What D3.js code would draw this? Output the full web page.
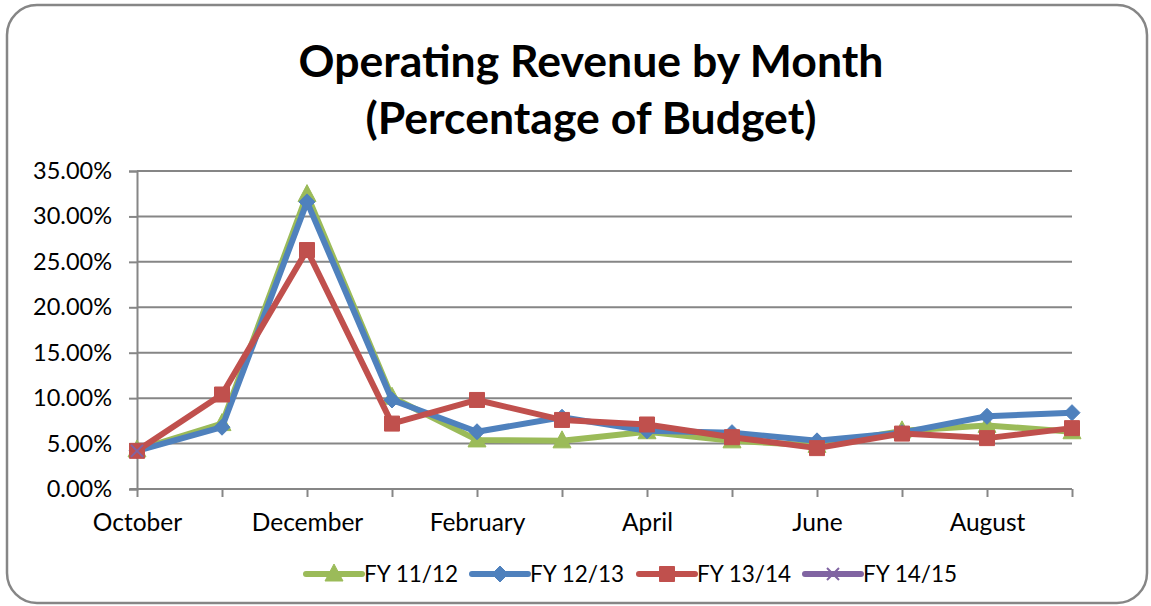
<!DOCTYPE html>
<html><head><meta charset="utf-8">
<script src="https://cdn.jsdelivr.net/npm/d3@7"></script>
<style>body{margin:0;background:#fff}svg{display:block}text{font-family:Lato,"Open Sans",sans-serif}</style>
</head><body>
<svg id="c" width="1151" height="606"></svg>
<script>
const months = ["October","November","December","January","February","March","April","May","June","July","August","September"];
const shownLabels = ["October","December","February","April","June","August"];
const yTicks = [0,0.05,0.10,0.15,0.20,0.25,0.30,0.35];
const seriesNames = ["FY 11/12","FY 12/13","FY 13/14","FY 14/15"];
const fy1112 = [0.043,0.072,0.324,0.101,0.054,0.053,0.063,0.053,0.048,0.064,0.070,0.063];
const fy1213 = [0.042,0.068,0.316,0.098,0.063,0.079,0.064,0.062,0.053,0.062,0.080,0.084];
const fy1314 = [0.042,0.104,0.263,0.072,0.098,0.076,0.071,0.057,0.045,0.061,0.056,0.067];
const fy1415 = [0.042];
const colors = ["#9BBB59","#4F81BD","#C0504D","#8064A2"];
const markers = ["triangle","diamond","square","x"];

const svg = d3.select("#c");
svg.append("rect").attr("x",7).attr("y",5).attr("width",1140).attr("height",598)
  .attr("rx",30).attr("ry",30).attr("fill","#fff").attr("stroke","#868686").attr("stroke-width",2.5);

const x = d3.scalePoint().domain(months).range([137,1072]);
const y = d3.scaleLinear().domain([0,0.35]).range([489,171]);

// gridlines
svg.append("g").selectAll("line").data(yTicks.slice(1)).join("line")
  .attr("x1",137).attr("x2",1072).attr("y1",d=>y(d)).attr("y2",d=>y(d))
  .attr("stroke","#868686").attr("stroke-width",2);

// y axis
const ya = svg.append("g").attr("transform","translate(137,0)")
  .call(d3.axisLeft(y).tickValues(yTicks).tickFormat(d3.format(".2%")).tickSize(8).tickPadding(17));
ya.select(".domain").attr("stroke","#868686").attr("stroke-width",2);
ya.selectAll(".tick line").attr("stroke","#868686").attr("stroke-width",2);
ya.selectAll("text").attr("font-size",23.5).attr("fill","#000").attr("font-family","Lato");

// x axis
const xa = svg.append("g").attr("transform","translate(0,489)")
  .call(d3.axisBottom(x).tickSize(8).tickPadding(17).tickSizeOuter(0)
    .tickFormat(d=>shownLabels.includes(d)?d:""));
xa.select(".domain").attr("stroke","#868686").attr("stroke-width",2).attr("d","M130,0H1072");
xa.selectAll(".tick line").attr("stroke","#868686").attr("stroke-width",2);
xa.selectAll("text").attr("font-size",24.5).attr("fill","#000").attr("font-family","Lato");

// title
const titleLines = [["Operating Revenue by Month",77,585],["(Percentage of Budget)",134,451]];
titleLines.forEach(([t,yy,w])=>{
  const tx = svg.append("text").attr("x",591).attr("y",yy).attr("text-anchor","middle")
    .attr("font-weight","bold").attr("font-size",40).text(t);
  const len = tx.node().getComputedTextLength();
  tx.attr("font-size",40*w/len);
});

function markerPath(type,cx,cy){
  if(type==="triangle") return `M${cx},${cy-10}L${cx+9},${cy+7}L${cx-9},${cy+7}Z`;
  if(type==="diamond") return `M${cx},${cy-8}L${cx+8},${cy}L${cx},${cy+8}L${cx-8},${cy}Z`;
  if(type==="square") return `M${cx-7.5},${cy-7.5}h15v15h-15Z`;
  return `M${cx-6},${cy-6}L${cx+6},${cy+6}M${cx+6},${cy-6}L${cx-6},${cy+6}`;
}

const data = [fy1112,fy1213,fy1314,fy1415];
const line = d3.line().x((d,i)=>x(months[i])).y(d=>y(d));
data.forEach((vals,s)=>{
  const g = svg.append("g");
  g.append("path").datum(vals).attr("d",line).attr("fill","none")
    .attr("stroke",colors[s]).attr("stroke-width",6).attr("stroke-linejoin","round");
  g.selectAll("path.m").data(vals).join("path").attr("class","m")
    .attr("d",(d,i)=>markerPath(markers[s],x(months[i]),y(d)))
    .attr("fill",markers[s]==="x"?"none":colors[s])
    .attr("stroke",colors[s]).attr("stroke-width",markers[s]==="x"?2:1);
});

// legend
const legX = [306,472,639,805];
seriesNames.forEach((n,s)=>{
  const lx = legX[s], ly = 574;
  svg.append("line").attr("x1",lx).attr("x2",lx+56).attr("y1",ly).attr("y2",ly)
    .attr("stroke",colors[s]).attr("stroke-width",6).attr("stroke-linecap","round");
  svg.append("path").attr("d",markerPath(markers[s],lx+28,ly))
    .attr("fill",markers[s]==="x"?"none":colors[s]).attr("stroke",colors[s]).attr("stroke-width",markers[s]==="x"?2:1);
  svg.append("text").attr("x",lx+58).attr("y",ly+8).attr("font-size",22.5).attr("fill","#000").text(n);
});
</script>
</body></html>
